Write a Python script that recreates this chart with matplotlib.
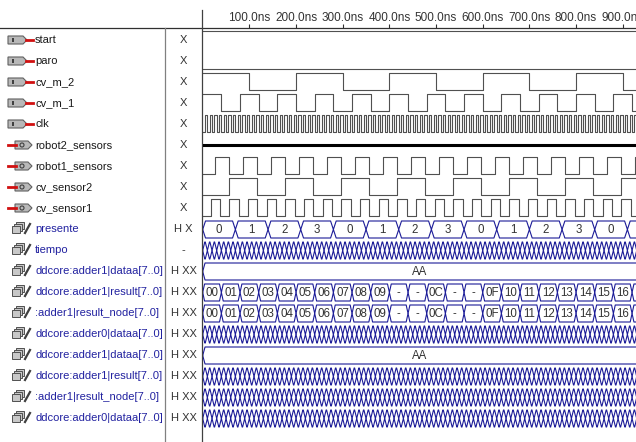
import numpy as np
import matplotlib
matplotlib.use('Agg')
import matplotlib.pyplot as plt
from matplotlib.patches import Polygon, Rectangle, Ellipse

plt.rcParams['font.family'] = ['Liberation Sans', 'DejaVu Sans']

# medidas de la ventana (px)
W, H = 636, 442
X_WAVE = 202.7      # borde izquierdo del panel de ondas
NS_PX = 0.4667      # px por ns
T_END = (W - X_WAVE) / NS_PX
Y_HEAD = 28
ROW0 = 40
ROW_H = 21

# ---- datos ----
nombres = ['start', 'paro', 'cv_m_2', 'cv_m_1', 'clk',
           'robot2_sensors', 'robot1_sensors', 'cv_sensor2', 'cv_sensor1',
           'presente', 'tiempo',
           'ddcore:adder1|dataa[7..0]', 'ddcore:adder1|result[7..0]',
           ':adder1|result_node[7..0]', 'ddcore:adder0|dataa[7..0]',
           'ddcore:adder1|dataa[7..0]', 'ddcore:adder1|result[7..0]',
           ':adder1|result_node[7..0]', 'ddcore:adder0|dataa[7..0]']
valores = ['X'] * 9 + ['H X', '-'] + ['H XX'] * 8
tipos = ['in'] * 5 + ['out'] * 4 + ['bus'] * 10

ticks_ns = [100, 200, 300, 400, 500, 600, 700, 800, 900]

# digitales: (nivel inicial, primer flanco ns, semiperiodo ns)
start_sig = (1, None, None)
paro_sig = (0, None, None)
cv_m_2 = (1, 100, 100)
cv_m_1 = (1, 40, 40)
clk = (0, 5, 5)
robot1_sensors = (0, 27, 30)
cv_sensor2 = (0, 57, 60)
cv_sensor1 = (0, 17, 20)

presente_vals = ['0', '1', '2', '3', '0', '1', '2', '3', '0', '1', '2', '3', '0', '1']
presente_paso = 70
result_vals = ['00', '01', '02', '03', '04', '05', '06', '07', '08', '09',
               '-', '-', '0C', '-', '-', '0F',
               '10', '11', '12', '13', '14', '15', '16', '17']
result_paso = 40
dataa_val = 'AA'
denso_paso = 10   # buses que cambian en cada ciclo de clk

GRIS = '#505050'
AZUL = '#1c1c98'
HI = -9 / ROW_H
LO = 8 / ROW_H


def fila_px(i):
    return ROW0 + ROW_H * i


def digital(ax, fila, sig):
    nivel0, primero, semi = sig
    if primero is None:
        flancos = []
    else:
        flancos = list(np.arange(primero, T_END + semi, semi))
    t = [0] + flancos + [T_END + 20]
    niv = [(nivel0 + k) % 2 for k in range(len(t))]
    y = [fila + (HI if n else LO) for n in niv]
    ax.step(t, y, where='post', color=GRIS, lw=0.8)


def bus(ax, fila, cambios, etiquetas=None, s=5.0, lw=0.8):
    top, bot = fila - 8 / ROW_H, fila + 9 / ROW_H
    mid = (top + bot) / 2
    bordes = [0] + list(cambios) + [T_END + 20]
    xt, yt, xb, yb = [0], [mid], [0], [mid]
    for a, b in zip(bordes[:-1], bordes[1:]):
        xt += [a + s, b - s, b]
        yt += [top, top, mid]
        xb += [a + s, b - s, b]
        yb += [bot, bot, mid]
    ax.plot(xt, yt, color=AZUL, lw=lw)
    ax.plot(xb, yb, color=AZUL, lw=lw)
    if etiquetas:
        for k, (a, b) in enumerate(zip(bordes[:-1], bordes[1:])):
            b = min(b, T_END)
            if (b - a) * NS_PX < 14 or k >= len(etiquetas):
                continue
            ax.text((a + b) / 2, mid + 0.03, etiquetas[k], ha='center', va='center',
                    fontsize=8.3, color='#333333')


def icono(ax, tipo, y):
    if tipo == 'in':
        ax.add_patch(Polygon([(8, y - 4), (23, y - 4), (27, y), (23, y + 4), (8, y + 4)],
                             closed=True, fc='#b8b8b8', ec='#606060', lw=0.8))
        ax.add_patch(Rectangle((12, y - 2), 2, 4, fc='#404040', ec='none'))
        ax.plot([26, 33], [y, y], color='#d01010', lw=2)
    elif tipo == 'out':
        ax.plot([8, 16], [y, y], color='#d01010', lw=2)
        ax.add_patch(Polygon([(15, y - 4), (28, y - 4), (32, y), (28, y + 4), (15, y + 4)],
                             closed=True, fc='#b8b8b8', ec='#606060', lw=0.8))
        ax.add_patch(Ellipse((22, y), 4, 4, fc='none', ec='#404040', lw=0.8))
    else:
        for d in (4, 2, 0):
            ax.add_patch(Polygon([(12 + d, y - 3 - d), (20 + d, y - 3 - d), (20 + d, y + 4 - d),
                                  (12 + d, y + 4 - d)], closed=True,
                                 fc='#c8c8c8', ec='#505050', lw=0.7))
        ax.plot([25, 30], [y + 4, y - 5], color='#404040', lw=1.6)


fig = plt.figure(figsize=(W / 100, H / 100), dpi=100)

# panel de nombres / fondo
ax0 = fig.add_axes([0, 0, 1, 1])
ax0.set_xlim(0, W)
ax0.set_ylim(H, 0)
ax0.axis('off')
ax0.plot([0, W], [Y_HEAD, Y_HEAD], color='#303030', lw=0.9)
ax0.plot([165, 165], [Y_HEAD, H], color='#808080', lw=0.9)
ax0.plot([X_WAVE - 0.5, X_WAVE - 0.5], [10, H], color='#404040', lw=0.9)

for i, nom in enumerate(nombres):
    y = fila_px(i)
    icono(ax0, tipos[i], y)
    col = '#1a1a1a' if tipos[i] != 'bus' else '#2222a0'
    ax0.text(35, y, nom, ha='left', va='center', fontsize=8, color=col)
    ax0.text(183.5, y, valores[i], ha='center', va='center', fontsize=8, color='#333333')

# panel de ondas
ax = fig.add_axes([X_WAVE / W, 0, 1 - X_WAVE / W, (H - Y_HEAD) / H])
ax.patch.set_visible(False)
ax.set_xlim(0, T_END)
ax.set_ylim((H - ROW0) / ROW_H, (Y_HEAD - ROW0) / ROW_H)
for sp in ax.spines.values():
    sp.set_visible(False)
ax.set_yticks([])
ax.xaxis.tick_top()
ax.set_xticks(ticks_ns)
ax.set_xticklabels([f'{t:.1f}ns' for t in ticks_ns])
ax.tick_params(axis='x', direction='out', length=3, pad=0, labelsize=8.5,
               color='#303030', labelcolor='#333333')

digital(ax, 0, start_sig)
digital(ax, 1, paro_sig)
digital(ax, 2, cv_m_2)
digital(ax, 3, cv_m_1)
digital(ax, 4, clk)
ax.plot([0, T_END], [5, 5], color='black', lw=2.2)
digital(ax, 6, robot1_sensors)
digital(ax, 7, cv_sensor2)
digital(ax, 8, cv_sensor1)

cambios_presente = [presente_paso * k for k in range(1, len(presente_vals))]
bus(ax, 9, cambios_presente, presente_vals, s=6.0)
cambios_denso = list(np.arange(denso_paso, T_END + denso_paso, denso_paso))
bus(ax, 10, cambios_denso, s=4.5)
bus(ax, 11, [], [dataa_val])
cambios_result = [result_paso * k for k in range(1, len(result_vals))]
bus(ax, 12, cambios_result, result_vals, s=4.0)
bus(ax, 13, cambios_result, result_vals, s=4.0)
bus(ax, 14, cambios_denso, s=4.5)
bus(ax, 15, [], [dataa_val])
bus(ax, 16, cambios_denso, s=4.5)
bus(ax, 17, cambios_denso, s=4.5)
bus(ax, 18, cambios_denso, s=4.5)

fig.savefig('out.png', dpi=100)
plt.close(fig)
